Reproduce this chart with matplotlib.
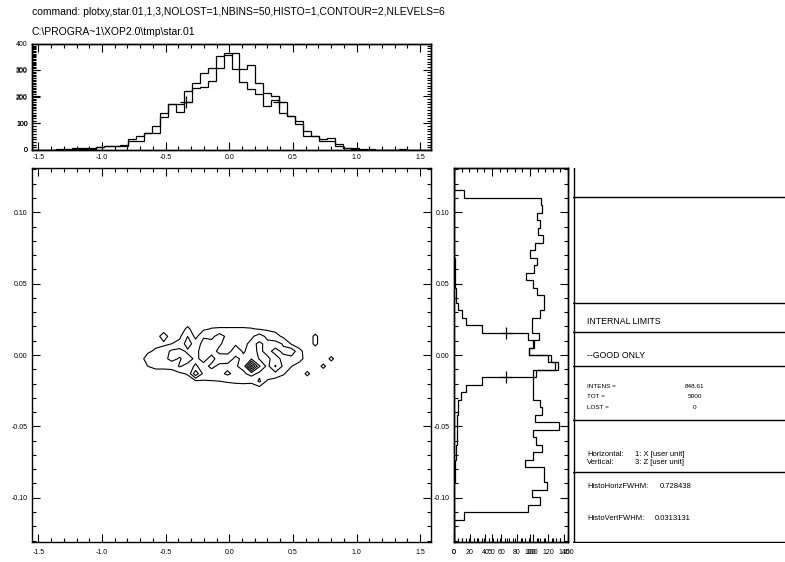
import matplotlib
matplotlib.use("Agg")
import matplotlib.pyplot as plt
from matplotlib.ticker import MultipleLocator, FormatStrFormatter
import numpy as np

plt.rcParams['font.family'] = ['Liberation Sans', 'DejaVu Sans']

command_text = "command: plotxy,star.01,1,3,NOLOST=1,NBINS=50,HISTO=1,CONTOUR=2,NLEVELS=6"
file_text = "C:\\PROGRA~1\\XOP2.0\\tmp\\star.01"

nbins = 50
x_range = (-1.55, 1.585)
z_range = (-0.131, 0.131)

# horizontal histograms (counts per X bin)
hist_x_a = [0, 0, 0, 1, 2, 3, 8, 4, 12, 15,
            16, 17, 43, 53, 63, 66, 123, 173, 173, 182,
            233, 239, 259, 309, 366, 306, 306, 322, 252, 215,
            205, 182, 129, 110, 72, 53, 40, 44, 22, 9,
            9, 0, 0, 0, 0, 0, 0, 0, 0, 0]
hist_x_b = [0, 0, 0, 2, 1, 6, 4, 8, 10, 14,
            15, 15, 34, 34, 63, 91, 138, 173, 144, 224,
            252, 291, 309, 353, 357, 366, 258, 230, 211, 167,
            189, 138, 129, 97, 53, 53, 34, 34, 15, 9,
            5, 2, 2, 0, 0, 0, 2, 0, 0, 0]

# vertical histograms (counts per Z bin, bottom to top)
hist_z_a = [0, 0, 0, 13, 94, 110, 99, 118, 114, 114,
            90, 100, 112, 104, 100, 133, 103, 112, 109, 100,
            100, 100, 104, 132, 124, 95, 100, 108, 99, 99,
            110, 115, 115, 106, 101, 91, 102, 106, 97, 103,
            113, 107, 109, 106, 112, 111, 13, 0, 0, 0]
hist_z_b = [0, 0, 0, 0, 0, 0, 0, 0, 1, 1,
            1.3, 2.6, 2.6, 3.4, 3.4, 4, 4, 5.6, 5.6, 8.5,
            15.4, 35.5, 100, 128, 120, 96, 102, 94, 35.5, 15.4,
            9.8, 5.6, 2.6, 2.6, 1.3, 1.3, 1, 1, 0.5, 0.5,
            0, 0, 0, 0, 0, 0, 0, 0, 0, 0]

# FWHM markers
fwhm_x_pos = [-0.34, 0.39]
fwhm_x_height = [182, 182]
fwhm_z_pos = [0.0156, -0.0156]
fwhm_z_height = [66, 66]

# 2D histogram around the beam: X bins 13..38, Z bins 29..20 (rows listed top to bottom)
grid_x_bins = list(range(13, 39))
grid_z_bins = list(range(29, 19, -1))
grid_counts = [
    [0, 0, 0, 0, 0, 0, 0, 0, 0, 0, 0, 0, 0, 0, 0, 0, 0, 0, 0, 0, 0, 0, 0, 0, 0, 0],
    [0, 0, 0, 0, 0, 0, 0.7, 0, 0.3, 0.55, 0.6, 0.6, 0.6, 0.6, 0.55, 0.4, 0.3, 0.2, 0, 0, 0, 0, 0, 0, 0, 0],
    [0, 0, 0, 1, 0, 0.3, 1.5, 0.2, 1.4, 1.2, 2, 1.2, 1.3, 1.2, 1.3, 2, 1.2, 0.85, 0.3, 0, 0, 0, 0.7, 0, 0, 0],
    [0, 0, 0.2, 0.3, 0.5, 0.8, 2, 1, 1.8, 1.9, 1.6, 1.2, 1.4, 1.2, 1.8, 1.3, 1.8, 1.9, 1.4, 0.4, 0, 0, 0.7, 0, 0, 0],
    [0, 0.3, 0.7, 1, 1.7, 1.9, 1.3, 1.2, 2, 1.8, 1.3, 1.2, 1.9, 1.4, 1.9, 1.3, 1.8, 1.2, 1.7, 2.2, 0.8, 0, 0, 0, 0, 0],
    [0, 1, 0.9, 1.2, 1.8, 1.4, 1.9, 1.3, 1.8, 1.2, 1.9, 2, 1.3, 1.7, 2.4, 1.4, 1.3, 1.9, 1.2, 1.1, 0.92, 0, 0, 0, 0.7, 0],
    [0, 0.5, 0.8, 0.8, 0.9, 1.6, 1.2, 1.6, 1.2, 1.7, 1.3, 1.2, 1.4, 1.8, 6, 2.6, 1.2, 2.6, 1.3, 0.54, 0, 0, 0, 0.7, 0, 0],
    [0, 0, 0, 0, 0, 0.3, 0.6, 3.2, 1.2, 1.1, 1.2, 1.7, 1.2, 1.3, 1.9, 1.2, 1.35, 1.2, 0.6, 0, 0, 0.7, 0, 0, 0, 0],
    [0, 0, 0, 0, 0, 0, 0, 0.3, 0.4, 0.45, 0.5, 0.6, 0.7, 0.75, 0.7, 1.7, 0.3, 0, 0, 0, 0, 0, 0, 0, 0, 0],
    [0, 0, 0, 0, 0, 0, 0, 0, 0, 0, 0, 0, 0, 0, 0, 0, 0, 0, 0, 0, 0, 0, 0, 0, 0, 0],
]
contour_levels = [0.5, 1.5, 2.5, 3.5, 4.5, 5.5]

info_labels = ["INTENS =", "TOT =", "LOST ="]
info_values = ["848.61", "5000", "0"]
horiz_fwhm = "0.728438"
vert_fwhm = "0.0313131"

W, H = 785, 562
fig = plt.figure(figsize=(W / 100, H / 100), dpi=100)


def px_axes(left, top, right, bottom):
    return fig.add_axes([left / W, 1 - bottom / H, (right - left) / W, (bottom - top) / H])


def idl_ticks(ax, **kw):
    ax.tick_params(which='both', direction='in', labelsize=5, width=0.8, pad=3, **kw)
    ax.tick_params(which='major', length=6)
    ax.tick_params(which='minor', length=3)
    for s in ax.spines.values():
        s.set_linewidth(1.0)


x_edges = np.linspace(x_range[0], x_range[1], nbins + 1)
z_edges = np.linspace(z_range[0], z_range[1], nbins + 1)
x_centers = 0.5 * (x_edges[:-1] + x_edges[1:])
z_centers = 0.5 * (z_edges[:-1] + z_edges[1:])

# top histogram
ax_top = px_axes(32, 44, 431, 150)
ax_top.stairs(hist_x_a, x_edges, color='k', lw=0.9)
ax_top.stairs(hist_x_b, x_edges, color='k', lw=0.9)
ax_top.plot(fwhm_x_pos, fwhm_x_height, '+', color='k', ms=8, mew=0.9)
ax_top.set_xlim(x_range)
ax_top.set_ylim(0, 400)
ax_top.xaxis.set_major_locator(MultipleLocator(0.5))
ax_top.xaxis.set_minor_locator(MultipleLocator(0.1))
ax_top.xaxis.set_major_formatter(FormatStrFormatter('%.1f'))
ax_top.yaxis.set_major_locator(MultipleLocator(100))
ax_top.yaxis.set_minor_locator(MultipleLocator(10))
idl_ticks(ax_top, top=True, right=True)
ax_top2 = ax_top.twinx()
ax_top2.set_ylim(0, 396)
ax_top2.yaxis.set_major_locator(MultipleLocator(100))
ax_top2.yaxis.set_minor_locator(MultipleLocator(10))
idl_ticks(ax_top2, left=True, right=True, labelleft=True, labelright=False)

# main contour plot
ax_main = px_axes(32, 168, 431, 542)
gx = x_centers[grid_x_bins]
gz = z_centers[grid_z_bins]
ax_main.contour(gx, gz, np.array(grid_counts), levels=contour_levels, colors='k', linewidths=0.8)
ax_main.set_xlim(x_range)
ax_main.set_ylim(z_range)
ax_main.xaxis.set_major_locator(MultipleLocator(0.5))
ax_main.xaxis.set_minor_locator(MultipleLocator(0.1))
ax_main.yaxis.set_major_locator(MultipleLocator(0.05))
ax_main.yaxis.set_minor_locator(MultipleLocator(0.01))
ax_main.xaxis.set_major_formatter(FormatStrFormatter('%.1f'))
ax_main.yaxis.set_major_formatter(FormatStrFormatter('%.2f'))
idl_ticks(ax_main, top=True, right=True)
ax_main.tick_params(axis='x', pad=5)

# side histogram
ax_side = px_axes(454, 168, 568, 542)
ax_side.stairs(hist_z_a, z_edges, orientation='horizontal', color='k', lw=0.9)
ax_side.stairs(hist_z_b, z_edges, orientation='horizontal', color='k', lw=0.9)
ax_side.plot(fwhm_z_height, fwhm_z_pos, '+', color='k', ms=8, mew=0.9)
ax_side.set_ylim(z_range)
ax_side.set_xlim(0, 145)
ax_side.yaxis.set_major_locator(MultipleLocator(0.05))
ax_side.yaxis.set_minor_locator(MultipleLocator(0.01))
ax_side.yaxis.set_major_formatter(FormatStrFormatter('%.2f'))
ax_side.xaxis.set_major_locator(MultipleLocator(20))
ax_side.xaxis.set_minor_locator(MultipleLocator(5))
idl_ticks(ax_side, top=True, right=True)
ax_side.tick_params(axis='x', pad=5)
ax_side2 = ax_side.twiny()
ax_side2.set_xlim(0, 150)
ax_side2.xaxis.set_major_locator(MultipleLocator(50))
ax_side2.xaxis.set_minor_locator(MultipleLocator(10))
idl_ticks(ax_side2, top=True, bottom=True, labeltop=False, labelbottom=True)
ax_side2.tick_params(axis='x', pad=5)

# info panel
ax_info = px_axes(573, 168, 785, 543)
ax_info.set_xlim(573, 785)
ax_info.set_ylim(543, 168)
ax_info.axis('off')
ax_info.axvline(573.5, color='k', lw=1.0)
for yl in [197, 303, 332, 366, 420, 472, 542]:
    ax_info.axhline(yl, color='k', lw=1.0)
ax_info.text(587, 322, "INTERNAL LIMITS", fontsize=6.3, va='center')
ax_info.text(587, 356, "--GOOD ONLY", fontsize=6.3, va='center')
for i, (lab, val) in enumerate(zip(info_labels, info_values)):
    yy = 386.5 + 10.5 * i
    ax_info.text(587, yy, lab, fontsize=4.6, va='center')
    ax_info.text(695, yy, val, fontsize=4.6, va='center', ha='center')
ax_info.text(587, 454, "Horizontal:", fontsize=5.5, va='center')
ax_info.text(635, 454, "1: X [user unit]", fontsize=5.5, va='center')
ax_info.text(587, 463, "Vertical:", fontsize=5.5, va='center')
ax_info.text(635, 463, "3: Z [user unit]", fontsize=5.5, va='center')
ax_info.text(587, 487, "HistoHorizFWHM:", fontsize=5.5, va='center')
ax_info.text(660, 487, horiz_fwhm, fontsize=5.5, va='center')
ax_info.text(587, 518, "HistoVertFWHM:", fontsize=5.5, va='center')
ax_info.text(655, 518, vert_fwhm, fontsize=5.5, va='center')

fig.text(32 / W, 1 - 12 / H, command_text, fontsize=7.45, va='center')
fig.text(32 / W, 1 - 32 / H, file_text, fontsize=7.45, va='center')

fig.savefig("out.png", dpi=100)
